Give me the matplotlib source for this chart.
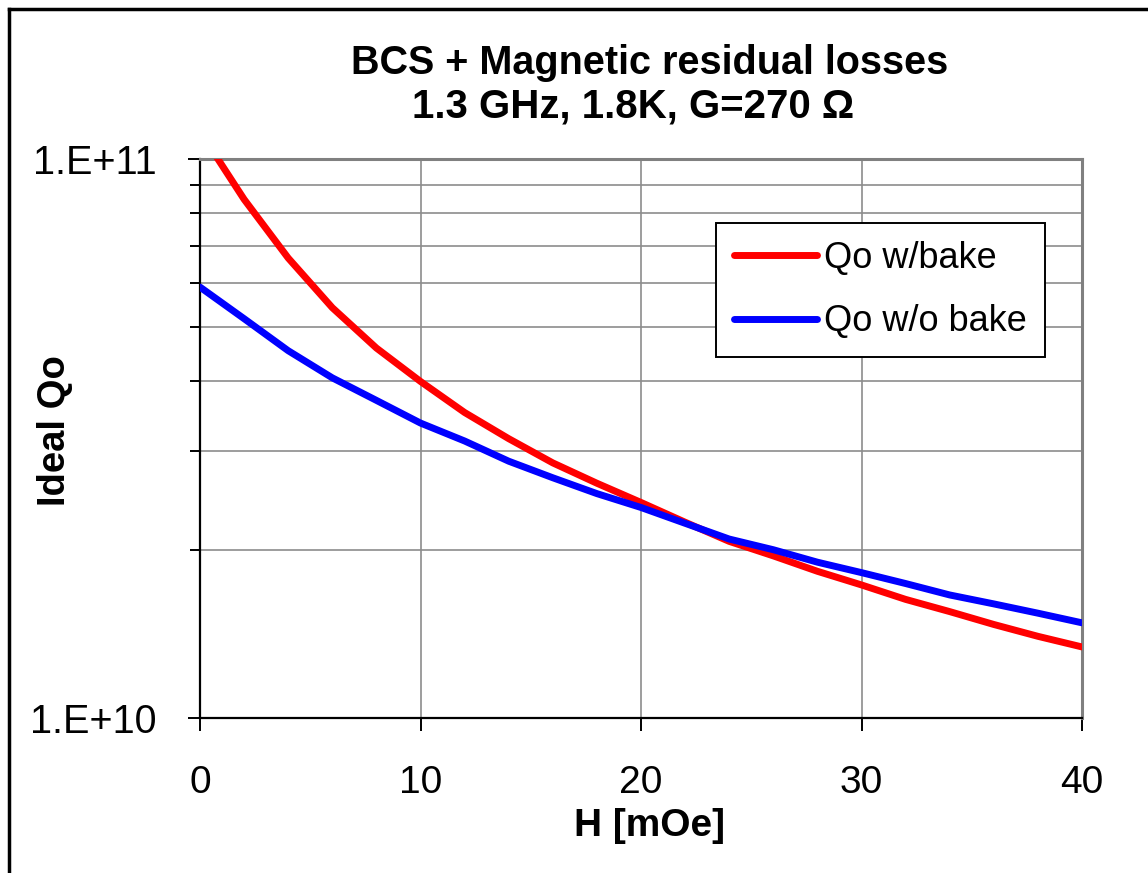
import matplotlib.pyplot as plt
from matplotlib.lines import Line2D
from matplotlib.ticker import FixedLocator, NullFormatter

plt.rcParams['font.family'] = ['Liberation Sans', 'DejaVu Sans']

# Applied field [mOe]
H = [0, 2, 4, 6, 8, 10, 12, 14, 16, 18, 20,
     22, 24, 26, 28, 30, 32, 34, 36, 38, 40]

# Ideal Qo with bake
Q_BAKE = [1.12e11, 8.47e10, 6.65e10, 5.42e10, 4.59e10, 4.00e10, 3.52e10,
          3.16e10, 2.86e10, 2.63e10, 2.43e10, 2.24e10, 2.07e10, 1.95e10,
          1.83e10, 1.73e10, 1.63e10, 1.55e10, 1.47e10, 1.40e10, 1.34e10]

# Ideal Qo without bake
Q_NO_BAKE = [5.90e10, 5.18e10, 4.54e10, 4.06e10, 3.70e10, 3.37e10, 3.13e10,
             2.88e10, 2.69e10, 2.52e10, 2.38e10, 2.23e10, 2.09e10, 2.00e10,
             1.90e10, 1.82e10, 1.74e10, 1.66e10, 1.60e10, 1.54e10, 1.48e10]

X_TICKS = [0, 10, 20, 30, 40]
Y_MAJOR = [1e10, 1e11]
Y_MAJOR_LABELS = ['1.E+10', '1.E+11']
Y_MINOR = [2e10, 3e10, 4e10, 5e10, 6e10, 7e10, 8e10, 9e10]

W, H_PX = 1148, 873
fig = plt.figure(figsize=(W / 100, H_PX / 100), dpi=100)
fig.patch.set_facecolor('white')

ax = fig.add_axes([200 / W, 1 - 718 / H_PX, 882 / W, 559 / H_PX])
ax.set_yscale('log')
ax.set_xlim(0, 40)
ax.set_ylim(1e10, 1e11)

ax.plot(H, Q_BAKE, color='#ff0000', lw=5, solid_capstyle='round',
        solid_joinstyle='round', label='Qo w/bake', zorder=3)
ax.plot(H, Q_NO_BAKE, color='#0000ff', lw=5, solid_capstyle='round',
        solid_joinstyle='round', label='Qo w/o bake', zorder=3)

# axis ticks in spreadsheet style
ax.xaxis.set_major_locator(FixedLocator(X_TICKS))
ax.set_xticklabels([str(t) for t in X_TICKS])
ax.xaxis.set_minor_locator(FixedLocator([]))
ax.yaxis.set_major_locator(FixedLocator(Y_MAJOR))
ax.set_yticklabels(Y_MAJOR_LABELS)
ax.yaxis.set_minor_locator(FixedLocator(Y_MINOR))
ax.yaxis.set_minor_formatter(NullFormatter())

ax.tick_params(axis='x', which='major', direction='out', length=9.5,
               width=1.4, labelsize=28, pad=24)
ax.tick_params(axis='y', which='major', direction='out', length=8.5,
               width=1.4, labelsize=28.5, pad=23)
ax.tick_params(axis='y', which='minor', direction='out', length=7,
               width=1.4)

# gridlines
for x in X_TICKS[1:-1]:
    ax.axvline(x, color='#8c8c8c', lw=1.2, zorder=1)
for y in Y_MINOR:
    ax.axhline(y, color='#8c8c8c', lw=1.2, zorder=1)

for side in ['left', 'bottom']:
    ax.spines[side].set_color('black')
    ax.spines[side].set_linewidth(1.6)
for side in ['top', 'right']:
    ax.spines[side].set_color('#808080')
    ax.spines[side].set_linewidth(2.2)

fig.text(55 / W, 1 - 431 / H_PX, 'Ideal Qo', rotation=90, ha='center',
         va='center', fontsize=27.5, fontweight='bold')
fig.text(649 / W, 1 - 826 / H_PX, 'H [mOe]', ha='center', va='center',
         fontsize=28, fontweight='bold')

fig.text(650 / W, 1 - 63 / H_PX, 'BCS + Magnetic residual losses',
         ha='center', va='center', fontsize=28.5, fontweight='bold')
fig.text(633 / W, 1 - 107 / H_PX, '1.3 GHz, 1.8K, G=270 \u03a9',
         ha='center', va='center', fontsize=29, fontweight='bold')

leg = ax.legend(loc='upper left', bbox_to_anchor=(716 / W, 1 - 223 / H_PX),
                bbox_transform=fig.transFigure, fontsize=26, frameon=True,
                fancybox=False, handlelength=2.3, handletextpad=0.2,
                labelspacing=0.78, borderpad=0.5, borderaxespad=0)
leg.get_frame().set_edgecolor('black')
leg.get_frame().set_linewidth(1.4)
leg.get_frame().set_alpha(1)

# outer chart border (top and left edges)
fig.add_artist(Line2D([9 / W, 1.0], [1 - 9 / H_PX, 1 - 9 / H_PX],
                      transform=fig.transFigure, color='black', lw=2.5))
fig.add_artist(Line2D([9 / W, 9 / W], [0.0, 1 - 9 / H_PX],
                      transform=fig.transFigure, color='black', lw=2.5))

fig.savefig('out.png', dpi=100)
